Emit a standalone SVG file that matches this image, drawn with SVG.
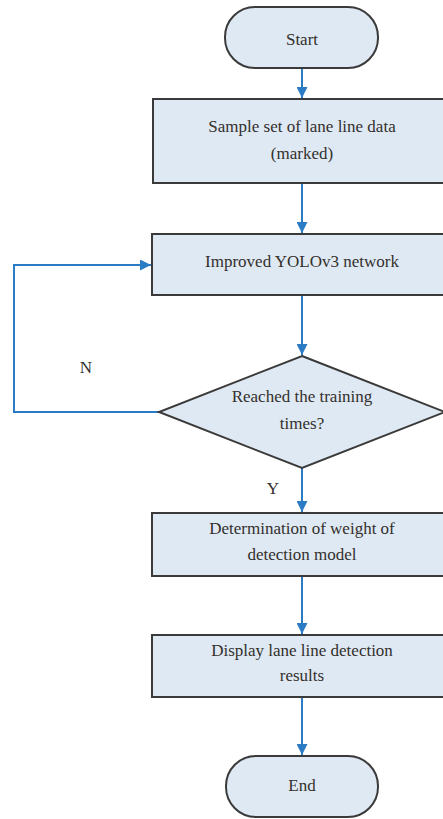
<svg xmlns="http://www.w3.org/2000/svg" width="443" height="819" viewBox="0 0 443 819">
<defs>
<style>
.node{fill:#dfe9f4;stroke:#3a3a3a;stroke-width:2}
.lbl{font-family:"Liberation Serif","Times New Roman",serif;font-size:17px;fill:#33302c;text-anchor:middle;dominant-baseline:middle}
.edge{fill:none;stroke:#2b7cc4;stroke-width:2}
</style>
<marker id="arr" viewBox="0 0 10 10" refX="10" refY="5" markerWidth="6" markerHeight="5.5" orient="auto" markerUnits="strokeWidth">
<path d="M0,0 L10,5 L0,10 z" fill="#2b7cc4"/>
</marker>
</defs>
<rect width="443" height="819" fill="#ffffff"/>
<g id="connectors">
<line class="edge" x1="302" y1="68" x2="302" y2="98" marker-end="url(#arr)"/>
<line class="edge" x1="302" y1="183" x2="302" y2="233" marker-end="url(#arr)"/>
<line class="edge" x1="302" y1="295" x2="302" y2="355" marker-end="url(#arr)"/>
<polyline class="edge" points="159,412 14,412 14,265 151,265" marker-end="url(#arr)"/>
<line class="edge" x1="302" y1="468" x2="302" y2="512" marker-end="url(#arr)"/>
<line class="edge" x1="302" y1="576" x2="302" y2="634" marker-end="url(#arr)"/>
<line class="edge" x1="302" y1="697" x2="302" y2="755" marker-end="url(#arr)"/>
<text class="lbl" x="86" y="369">N</text>
<text class="lbl" x="273" y="490">Y</text>
</g>
<g id="start">
<rect class="node" x="225" y="7" width="153" height="61" rx="30" ry="30"/>
<text class="lbl" x="302" y="41">Start</text>
</g>
<g id="sample">
<rect class="node" x="153" y="99" width="300" height="84"/>
<text class="lbl" x="302" y="128">Sample set of lane line data</text>
<text class="lbl" x="302" y="155">(marked)</text>
</g>
<g id="yolo">
<rect class="node" x="152" y="234" width="300" height="61"/>
<text class="lbl" x="302" y="263">Improved YOLOv3 network</text>
</g>
<g id="decision">
<polygon class="node" points="302,356 445,412 302,468 159,412"/>
<text class="lbl" x="302" y="398">Reached the training</text>
<text class="lbl" x="302" y="425">times?</text>
</g>
<g id="weight">
<rect class="node" x="152" y="513" width="300" height="63"/>
<text class="lbl" x="302" y="530">Determination of weight of</text>
<text class="lbl" x="302" y="556">detection model</text>
</g>
<g id="display">
<rect class="node" x="152" y="635" width="300" height="62"/>
<text class="lbl" x="302" y="652">Display lane line detection</text>
<text class="lbl" x="302" y="677">results</text>
</g>
<g id="end">
<rect class="node" x="226" y="756" width="152" height="61" rx="30" ry="30"/>
<text class="lbl" x="302" y="787">End</text>
</g>
</svg>
